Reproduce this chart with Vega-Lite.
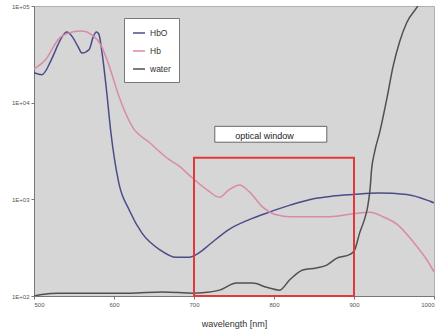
{
  "$schema": "https://vega.github.io/schema/vega-lite/v6.json",
  "width": 400,
  "height": 290,
  "autosize": "none",
  "padding": {"left": 34, "top": 6, "right": 4, "bottom": 38},
  "background": "white",
  "config": {
    "view": {"fill": "#d6d6d6", "stroke": "#b0b0b0", "strokeWidth": 1},
    "font": "Liberation Sans"
  },
  "datasets": {
    "spectra": [
      {"series": "HbO", "nm": 500, "value": 20400},
      {"series": "HbO", "nm": 510, "value": 19500},
      {"series": "HbO", "nm": 522, "value": 28200},
      {"series": "HbO", "nm": 530, "value": 39800},
      {"series": "HbO", "nm": 535, "value": 47900},
      {"series": "HbO", "nm": 541, "value": 53700},
      {"series": "HbO", "nm": 548, "value": 47900},
      {"series": "HbO", "nm": 555, "value": 38000},
      {"series": "HbO", "nm": 560, "value": 32600},
      {"series": "HbO", "nm": 569, "value": 35500},
      {"series": "HbO", "nm": 574, "value": 47900},
      {"series": "HbO", "nm": 578, "value": 53700},
      {"series": "HbO", "nm": 581, "value": 51300},
      {"series": "HbO", "nm": 585, "value": 33100},
      {"series": "HbO", "nm": 591, "value": 12600},
      {"series": "HbO", "nm": 596, "value": 5000},
      {"series": "HbO", "nm": 606, "value": 1480},
      {"series": "HbO", "nm": 619, "value": 776},
      {"series": "HbO", "nm": 635, "value": 447},
      {"series": "HbO", "nm": 657, "value": 302},
      {"series": "HbO", "nm": 678, "value": 251},
      {"series": "HbO", "nm": 694, "value": 251},
      {"series": "HbO", "nm": 707, "value": 282},
      {"series": "HbO", "nm": 719, "value": 339},
      {"series": "HbO", "nm": 744, "value": 490},
      {"series": "HbO", "nm": 769, "value": 617},
      {"series": "HbO", "nm": 795, "value": 741},
      {"series": "HbO", "nm": 820, "value": 871},
      {"series": "HbO", "nm": 848, "value": 1010},
      {"series": "HbO", "nm": 873, "value": 1080},
      {"series": "HbO", "nm": 899, "value": 1122},
      {"series": "HbO", "nm": 930, "value": 1160},
      {"series": "HbO", "nm": 966, "value": 1122},
      {"series": "HbO", "nm": 995, "value": 955},
      {"series": "HbO", "nm": 1000, "value": 920},
      {"series": "Hb", "nm": 500, "value": 22400},
      {"series": "Hb", "nm": 515, "value": 28200},
      {"series": "Hb", "nm": 531, "value": 45700},
      {"series": "Hb", "nm": 548, "value": 53700},
      {"series": "Hb", "nm": 560, "value": 55000},
      {"series": "Hb", "nm": 571, "value": 51300},
      {"series": "Hb", "nm": 584, "value": 38900},
      {"series": "Hb", "nm": 594, "value": 24000},
      {"series": "Hb", "nm": 606, "value": 11700},
      {"series": "Hb", "nm": 623, "value": 5620},
      {"series": "Hb", "nm": 644, "value": 3890},
      {"series": "Hb", "nm": 669, "value": 2570},
      {"series": "Hb", "nm": 682, "value": 2190},
      {"series": "Hb", "nm": 694, "value": 1780},
      {"series": "Hb", "nm": 716, "value": 1260},
      {"series": "Hb", "nm": 732, "value": 1050},
      {"series": "Hb", "nm": 744, "value": 1260},
      {"series": "Hb", "nm": 757, "value": 1410},
      {"series": "Hb", "nm": 769, "value": 1200},
      {"series": "Hb", "nm": 786, "value": 832},
      {"series": "Hb", "nm": 803, "value": 692},
      {"series": "Hb", "nm": 820, "value": 661},
      {"series": "Hb", "nm": 870, "value": 661},
      {"series": "Hb", "nm": 899, "value": 708},
      {"series": "Hb", "nm": 920, "value": 735},
      {"series": "Hb", "nm": 936, "value": 661},
      {"series": "Hb", "nm": 954, "value": 550},
      {"series": "Hb", "nm": 974, "value": 363},
      {"series": "Hb", "nm": 991, "value": 237},
      {"series": "Hb", "nm": 1000, "value": 178},
      {"series": "water", "nm": 500, "value": 100},
      {"series": "water", "nm": 510, "value": 103.5},
      {"series": "water", "nm": 530, "value": 107},
      {"series": "water", "nm": 570, "value": 107},
      {"series": "water", "nm": 620, "value": 107},
      {"series": "water", "nm": 660, "value": 110},
      {"series": "water", "nm": 700, "value": 107},
      {"series": "water", "nm": 710, "value": 108},
      {"series": "water", "nm": 732, "value": 115},
      {"series": "water", "nm": 753, "value": 136},
      {"series": "water", "nm": 773, "value": 136},
      {"series": "water", "nm": 791, "value": 123},
      {"series": "water", "nm": 807, "value": 115},
      {"series": "water", "nm": 820, "value": 148},
      {"series": "water", "nm": 836, "value": 186},
      {"series": "water", "nm": 853, "value": 195},
      {"series": "water", "nm": 866, "value": 209},
      {"series": "water", "nm": 878, "value": 245},
      {"series": "water", "nm": 895, "value": 269},
      {"series": "water", "nm": 901, "value": 302},
      {"series": "water", "nm": 907, "value": 447},
      {"series": "water", "nm": 913, "value": 617},
      {"series": "water", "nm": 917, "value": 832},
      {"series": "water", "nm": 920, "value": 1259},
      {"series": "water", "nm": 922, "value": 2040},
      {"series": "water", "nm": 926, "value": 3160},
      {"series": "water", "nm": 932, "value": 4900},
      {"series": "water", "nm": 941, "value": 10960},
      {"series": "water", "nm": 949, "value": 24000},
      {"series": "water", "nm": 957, "value": 42700},
      {"series": "water", "nm": 966, "value": 67600},
      {"series": "water", "nm": 979, "value": 97700},
      {"series": "water", "nm": 990, "value": 141000}
    ],
    "window": [{"x1": 700, "x2": 900, "y1": 100, "y2": 2700}],
    "labelbox": [{"x1": 726, "x2": 866, "y1": 3900, "y2": 5690, "xm": 788, "ym": 4500, "label": "optical window"}]
  },
  "layer": [
    {
      "data": {"name": "spectra"},
      "mark": {"type": "line", "clip": true, "strokeWidth": 1.5, "interpolate": "monotone"},
      "encoding": {
        "x": {
          "field": "nm", "type": "quantitative",
          "scale": {"domain": [500, 1000], "nice": false, "zero": false},
          "axis": {
            "title": "wavelength [nm]", "titleFontSize": 9, "titleFontWeight": "normal", "titleColor": "#333",
            "titlePadding": 12, "values": [500,550,600,650,700,750,800,850,900,950,1000],
            "labelFontSize": 6, "labelColor": "#555", "tickSize": 3, "tickColor": "#777",
            "domainColor": "#777", "grid": false, "labelPadding": 2, "format": "d"
          }
        },
        "y": {
          "field": "value", "type": "quantitative",
          "scale": {"type": "log", "domain": [100, 100000], "nice": false},
          "axis": {
            "title": null, "values": [100, 1000, 10000, 100000],
            "labelExpr": "datum.value >= 100000 ? '1E+05' : datum.value >= 10000 ? '1E+04' : datum.value >= 1000 ? '1E+03' : '1E+02'",
            "labelFontSize": 6, "labelColor": "#555", "tickSize": 3, "tickColor": "#777",
            "domainColor": "#777", "grid": false, "labelPadding": 2
          }
        },
        "color": {
          "field": "series", "type": "nominal",
          "scale": {"domain": ["HbO", "Hb", "water"], "range": ["#4a4c88", "#d98aa9", "#505050"]},
          "legend": {
            "orient": "none", "legendX": 90, "legendY": 12, "title": null,
            "fillColor": "white", "strokeColor": "#777", "padding": 8,
            "symbolType": "stroke", "symbolSize": 144, "symbolStrokeWidth": 1.5,
            "labelFontSize": 8.5, "labelColor": "#333", "rowPadding": 6,
            "encode": {"symbols": {"update": {"stroke": [{"test": "datum.label === 'HbO'", "value": "#222222"}, {"value": "#aaaaaa"}]}}}
          }
        }
      }
    },
    {
      "data": {"name": "window"},
      "mark": {"type": "rect", "fill": "transparent", "stroke": "#e0383c", "strokeWidth": 2},
      "encoding": {
        "x": {"field": "x1", "type": "quantitative"},
        "x2": {"field": "x2"},
        "y": {"field": "y1", "type": "quantitative"},
        "y2": {"field": "y2"}
      }
    },
    {
      "data": {"name": "labelbox"},
      "mark": {"type": "rect", "fill": "white", "stroke": "#666", "strokeWidth": 1},
      "encoding": {
        "x": {"field": "x1", "type": "quantitative"},
        "x2": {"field": "x2"},
        "y": {"field": "y1", "type": "quantitative"},
        "y2": {"field": "y2"}
      }
    },
    {
      "data": {"name": "labelbox"},
      "mark": {"type": "text", "fontSize": 9, "color": "#222", "align": "center", "baseline": "middle"},
      "encoding": {
        "x": {"field": "xm", "type": "quantitative"},
        "y": {"field": "ym", "type": "quantitative"},
        "text": {"field": "label"}
      }
    }
  ]
}
